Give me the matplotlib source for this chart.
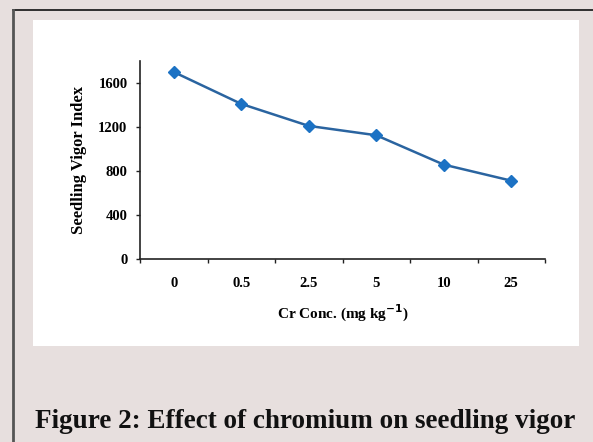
import matplotlib
matplotlib.use("Agg")
import matplotlib.pyplot as plt
from matplotlib.patches import Rectangle
from matplotlib.lines import Line2D

categories = ["0", "0.5", "2.5", "5", "10", "25"]
vigor_index = [1700, 1410, 1210, 1125, 858, 712]
y_ticks = [0, 400, 800, 1200, 1600]
caption = "Figure 2: Effect of chromium on seedling vigor"

W, H = 593, 442
bg = "#e7dfde"
serif = ["Liberation Serif", "DejaVu Serif"]

fig = plt.figure(figsize=(W / 100, H / 100), dpi=100, facecolor=bg)


def fx(px):
    return px / W


def fy(py):
    return 1 - py / H


# white panel and page borders
fig.patches.append(Rectangle((fx(33), fy(346)), fx(579 - 33), (346 - 20) / H,
                             transform=fig.transFigure, facecolor="white",
                             edgecolor="none", zorder=-5))
fig.add_artist(Line2D([fx(13), 1], [fy(10), fy(10)], color="#111111", lw=1.2))
fig.add_artist(Line2D([fx(13), fx(13)], [fy(10), 0], color="#555555", lw=2.0))

ax = fig.add_axes([fx(140), fy(259), fx(545 - 140), (259 - 61) / H])
ax.set_facecolor("none")
ax.set_zorder(2)

x = list(range(len(categories)))
ax.plot(x, vigor_index, color="#2a64a0", lw=1.8, marker="D", markersize=6,
        markerfacecolor="#1c72c4", markeredgecolor="#1c72c4", zorder=3)

ax.set_xlim(-0.5, len(categories) - 0.5)
ax.set_ylim(0, 1800)
ax.set_yticks(y_ticks)
ax.set_yticklabels([str(v) for v in y_ticks], family=serif, fontweight="bold",
                   fontsize=10.5)

# category boundaries get the tick marks, centres get the labels
ax.set_xticks([i - 0.5 for i in range(len(categories) + 1)])
ax.set_xticklabels([])
ax.set_xticks(x, minor=True)
ax.set_xticklabels(categories, minor=True, family=serif, fontweight="bold",
                   fontsize=10.5)
ax.tick_params(axis="x", which="minor", length=0, pad=13)
ax.tick_params(axis="both", which="major", direction="out", length=3,
               width=1, color="#222222")
ax.tick_params(axis="y", pad=6)

for s in ["top", "right"]:
    ax.spines[s].set_visible(False)
for s in ["left", "bottom"]:
    ax.spines[s].set_linewidth(1.2)
    ax.spines[s].set_color("#222222")

ax.set_ylabel("Seedling Vigor Index", family=serif, fontweight="bold",
              fontsize=12, labelpad=8)
ax.set_xlabel("Cr Conc. (mg kg$^{\\mathbf{-1}}$)", family=serif,
              fontweight="bold", fontsize=11, labelpad=9)

fig.text(fx(35), fy(428), caption, family=serif, fontweight="bold",
         fontsize=19.5, color="#111111", ha="left", va="baseline")

fig.savefig("out.png", dpi=100, facecolor=bg)
